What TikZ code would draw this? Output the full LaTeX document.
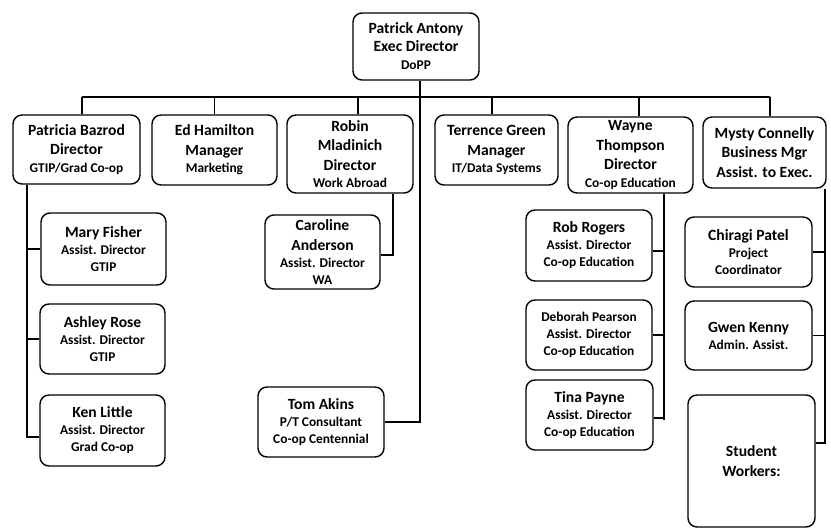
\documentclass[tikz,border=0pt]{standalone}
\usepackage{fontspec}
\setmainfont{Carlito}
\newcommand{\txL}{\fontsize{15.6}{19.5}\selectfont}
\newcommand{\txS}{\fontsize{13.4}{17}\selectfont}
\begin{document}
\begin{tikzpicture}[x=1pt,y=-1pt,
  box/.style={draw, line width=1.4pt, rounded corners=9pt, align=center, inner sep=0pt, font=\bfseries\txL},
  conn/.style={line width=1.2pt}]
\useasboundingbox (0,0) rectangle (831,529);
% top
\node[box, minimum width=126, minimum height=67] (top) at (416,46.5) {Patrick Antony\\[-1.5pt]Exec Director\\[-1.5pt]\txS DoPP};
% directors
\node[box, minimum width=127, minimum height=69] (pat) at (76.5,149.5) {Patricia Bazrod\\Director\\[-2pt]\txS GTIP/Grad Co-op};
\node[box, minimum width=125, minimum height=70] (ed) at (214.5,150) {Ed Hamilton\\Manager\\[-2pt]\txS Marketing};
\node[box, minimum width=126, minimum height=78] (robin) at (350,154) {Robin\\Mladinich\\Director\\[-2pt]\txS Work Abroad};
\node[box, minimum width=123, minimum height=70] (terr) at (496.5,150) {Terrence Green\\Manager\\[-2pt]\txS IT/Data Systems};
\node[box, minimum width=125, minimum height=76] (wayne) at (630.5,155) {Wayne\\Thompson\\Director\\[-2pt]\txS Co-op Education};
\node[box, minimum width=123, minimum height=71] (mysty) at (764.5,152.5) {Mysty Connelly\\Business Mgr\\Assist. to Exec.};
% left column
\node[box, minimum width=125, minimum height=72] (mary) at (103.5,249) {Mary Fisher\\[-2.5pt]\txS Assist. Director\\[-2.5pt]\txS GTIP};
\node[box, minimum width=125, minimum height=70] (ashley) at (102.5,339) {Ashley Rose\\[-2.5pt]\txS Assist. Director\\[-2.5pt]\txS GTIP};
\node[box, minimum width=125, minimum height=71] (ken) at (102.5,430.5) {Ken Little\\[-2.5pt]\txS Assist. Director\\[-2.5pt]\txS Grad Co-op};
% middle
\node[box, minimum width=115, minimum height=74] (caroline) at (322.5,252) {Caroline\\Anderson\\[-2.5pt]\txS Assist. Director\\[-2.5pt]\txS WA};
\node[box, minimum width=126, minimum height=70] (tom) at (321,422) {Tom Akins\\[-2.5pt]\txS P/T Consultant\\[-2.5pt]\txS Co-op Centennial};
% wayne column
\node[box, minimum width=126, minimum height=71] (rob) at (589,245.5) {Rob Rogers\\[-2.5pt]\txS Assist. Director\\[-2.5pt]\txS Co-op Education};
\node[box, minimum width=126, minimum height=70] (deb) at (589,335) {\txS Deborah Pearson\\[-2.5pt]\txS Assist. Director\\[-2.5pt]\txS Co-op Education};
\node[box, minimum width=127, minimum height=70] (tina) at (589.5,415) {Tina Payne\\[-2.5pt]\txS Assist. Director\\[-2.5pt]\txS Co-op Education};
% mysty column
\node[box, minimum width=127, minimum height=70] (chir) at (748.5,252) {Chiragi Patel\\[-2pt]\txS Project\\[-2.5pt]\txS Coordinator};
\node[box, minimum width=127, minimum height=69] (gwen) at (748.5,335.5) {Gwen Kenny\\[-2.5pt]\txS Admin. Assist.};
\node[box, minimum width=127, minimum height=132] (stud) at (751.5,461) {Student\\Workers:};
% main bus
\coordinate (hl) at (82,97);
\coordinate (hr) at (770,97);
\coordinate (rv) at (358,97);
\coordinate (tv) at (492,97);
\coordinate (wv) at (639,97);
\draw[conn] (hl) -- (hr);
\draw[conn] (hl) -- (pat.north -| hl);
\draw[conn] (ed.north |- hl) -- (ed.north);
\draw[conn] (rv) -- (robin.north -| rv);
\draw[conn] (tv) -- (terr.north -| tv);
\draw[conn] (wv) -- (wayne.north -| wv);
\draw[conn] (hr) -- (mysty.north -| hr);
% top to Tom
\coordinate (tl) at (420,422);
\draw[conn] (top.south -| tl) -- (tl) -- (tom.east |- tl);
% Patricia column
\coordinate (pl) at (27,437);
\draw[conn] (pat.south -| pl) -- (pl) -- (ken.west |- pl);
\draw[conn] (mary.west) -- (mary.west -| pl);
\draw[conn] (ashley.west) -- (ashley.west -| pl);
% Robin
\coordinate (rl) at (393,255);
\draw[conn] (robin.south -| rl) -- (rl) -- (caroline.east |- rl);
% Wayne column
\coordinate (wl) at (664,420);
\draw[conn] (wayne.south -| wl) -- (wl);
\draw[conn] ([yshift=-5.5pt]rob.east) -- ([yshift=-5.5pt]rob.east -| wl);
\draw[conn] (deb.east) -- (deb.east -| wl);
\draw[conn] ([yshift=-3pt]tina.east) -- ([yshift=-3pt]tina.east -| wl);
% Mysty column
\coordinate (ml) at (825,443);
\draw[conn] (mysty.south -| ml) -- (ml) -- (stud.east |- ml);
\draw[conn] (chir.east) -- (chir.east -| ml);
\draw[conn] (gwen.east) -- (gwen.east -| ml);
\end{tikzpicture}
\end{document}
